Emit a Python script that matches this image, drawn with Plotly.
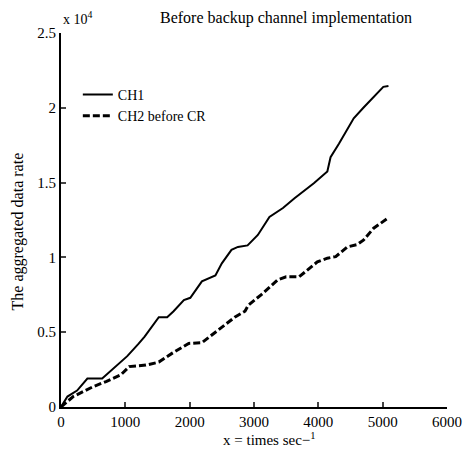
import plotly.graph_objects as go

# values in units of 10^4
ch1_x = [0, 100, 250, 330, 410, 640, 770, 925, 1030, 1200, 1300, 1520, 1650, 1750, 1910, 2010, 2190, 2400, 2500,
         2650, 2750, 2900, 3060, 3240, 3450, 3630, 3800, 3930, 4140, 4190, 4320, 4550, 4700, 4880, 5010, 5090]
ch1_y = [0, 0.07, 0.11, 0.15, 0.19, 0.19, 0.24, 0.30, 0.34, 0.42, 0.47, 0.60, 0.60, 0.64, 0.715, 0.73, 0.84, 0.88,
         0.96, 1.05, 1.07, 1.08, 1.15, 1.27, 1.33, 1.395, 1.45, 1.495, 1.575, 1.67, 1.76, 1.93, 2.0, 2.085, 2.14, 2.146]

ch2_x = [0, 190, 500, 700, 930, 1060, 1320, 1520, 1730, 1985, 2190, 2400, 2700, 2860, 2910, 3110, 3370, 3500,
         3700, 3985, 4140, 4270, 4450, 4600, 4700, 4860, 5090]
ch2_y = [0, 0.07, 0.136, 0.17, 0.215, 0.27, 0.28, 0.30, 0.36, 0.425, 0.43, 0.50, 0.60, 0.64, 0.68, 0.75, 0.85, 0.87,
         0.87, 0.97, 0.995, 1.005, 1.07, 1.085, 1.115, 1.195, 1.265]

x_ticks = [0, 1000, 2000, 3000, 4000, 5000, 6000]
y_ticks = [0, 0.5, 1, 1.5, 2, 2.5]
y_ticktext = ["0", "0.5", "1", "1.5", "2", "2.5"]

FONT = "Liberation Serif"

fig = go.Figure()
fig.add_trace(go.Scatter(x=ch1_x, y=ch1_y, mode="lines", name="CH1",
                         line=dict(color="black", width=2)))
fig.add_trace(go.Scatter(x=ch2_x, y=ch2_y, mode="lines", name="CH2 before CR",
                         line=dict(color="black", width=3, dash="7px,3px")))

# plot area in page pixels: x 61..451, y 33..407 (page has 8px body margin)
fig.update_layout(
    width=466, height=450,
    margin=dict(l=53, r=23, t=25, b=51),
    plot_bgcolor="white", paper_bgcolor="white",
    font=dict(family=FONT, size=15, color="black"),
    showlegend=True,
    legend=dict(x=(78 - 61) / 390, y=(407 - 79) / 374, xanchor="left", yanchor="top", bgcolor="rgba(0,0,0,0)",
                font=dict(family=FONT, size=14), tracegroupgap=0, itemwidth=30),
    xaxis=dict(range=[0, 6000], tickvals=x_ticks, ticks="inside", ticklen=5, tickwidth=2,
               showline=True, linecolor="black", linewidth=2, showgrid=False, zeroline=False,
               tickfont=dict(family=FONT, size=15), title=None),
    yaxis=dict(range=[0, 2.5], tickvals=y_ticks, ticktext=y_ticktext, ticks="inside", ticklen=5, tickwidth=2,
               showline=True, linecolor="black", linewidth=2, showgrid=False, zeroline=False,
               tickfont=dict(family=FONT, size=15), title=None),
)

fig.add_annotation(text="Before backup channel implementation", xref="paper", yref="paper",
                   x=(288 - 61) / 390, y=(407 - 18) / 374, showarrow=False, xanchor="center", yanchor="middle",
                   font=dict(family=FONT, size=16))
fig.add_annotation(text="x 10<sup>4</sup>", xref="paper", yref="paper",
                   x=(61 - 61) / 390, y=(407 - 18) / 374, showarrow=False, xanchor="left", yanchor="middle",
                   font=dict(family=FONT, size=14))
fig.add_annotation(text="The aggregated data rate", xref="paper", yref="paper",
                   x=(18 - 61) / 390, y=(407 - 231) / 374, showarrow=False, textangle=-90,
                   xanchor="center", yanchor="middle", font=dict(family=FONT, size=16))
fig.add_annotation(text="x = times sec\u2212<sup>1</sup>", xref="paper", yref="paper",
                   x=(272 - 61) / 390, y=(407 - 439) / 374, showarrow=False,
                   xanchor="center", yanchor="middle", font=dict(family=FONT, size=15))

fig.write_html("out.html")
